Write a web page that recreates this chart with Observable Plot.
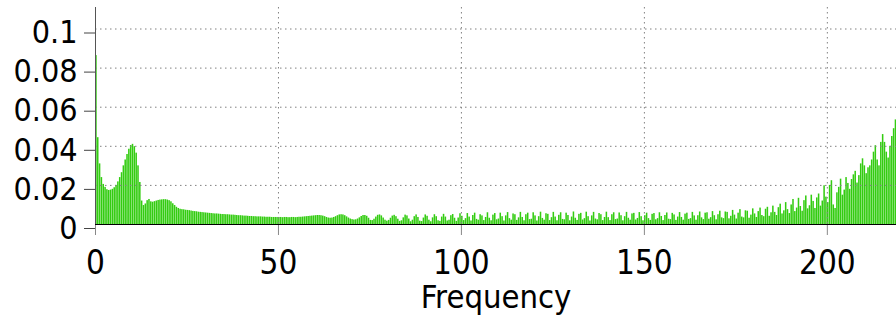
<!DOCTYPE html>
<html><head><meta charset="utf-8">
<script src="https://cdn.jsdelivr.net/npm/d3@7"></script>
<script src="https://cdn.jsdelivr.net/npm/@observablehq/plot@0.6"></script>
<style>
html,body{margin:0;padding:0;background:#fff;}
svg{display:block;}
</style></head><body><div id="chart"></div>
<script>
const binWidth = 0.5;
// 0 – 49.5
const lowBand = [
.0864,.0444,.0310,.0240,.0205,.0190,.0178,.0174,.0176,.0180,
.0188,.0200,.0218,.0240,.0265,.0300,.0330,.0358,.0385,.0404,
.0410,.0398,.0365,.0300,.0215,.0120,.0097,.0105,.0122,.0128,
.0116,.0114,.0117,.0120,.0123,.0125,.0126,.0127,.0127,.0125,
.0122,.0116,.0106,.0097,.0088,.0082,.0078,.0076,.0075,.0073,
.0072,.0071,.0069,.0067,.0066,.0065,.0063,.0062,.0061,.0060,
.0059,.0058,.0057,.0056,.0055,.0054,.0054,.0053,.0052,.0051,
.0051,.0050,.0050,.0049,.0048,.0048,.0047,.0046,.0045,.0045,
.0044,.0043,.0043,.0042,.0041,.0041,.0040,.0040,.0039,.0039,
.0039,.0038,.0038,.0037,.0037,.0037,.0036,.0036,.0036,.0036];
// 50 – 99.5
const midBand = [
.0036,.0036,.0035,.0036,.0036,.0035,.0035,.0036,.0036,.0035,
.0036,.0037,.0037,.0038,.0039,.0040,.0041,.0042,.0043,.0044,
.0045,.0046,.0046,.0045,.0043,.0040,.0036,.0033,.0032,.0033,
.0036,.0040,.0045,.0049,.0050,.0049,.0045,.0039,.0033,.0028,
.0025,.0023,.0024,.0028,.0034,.0041,.0046,.0046,.0042,.0032,
.0021,.0020,.0027,.0038,.0047,.0049,.0044,.0033,.0022,.0017,
.0021,.0032,.0043,.0047,.0040,.0027,.0016,.0019,.0034,.0048,
.0044,.0028,.0014,.0022,.0040,.0049,.0036,.0017,.0015,.0033,
.0049,.0042,.0022,.0014,.0034,.0050,.0040,.0019,.0016,.0038,
.0052,.0038,.0018,.0022,.0045,.0051,.0032,.0016,.0033,.0055];
// 100 – 149.5
const highBand = [
.0042,.0020,.0030,.0056,.0038,.0018,.0046,.0058,.0026,.0022,
.0050,.0044,.0020,.0036,.0060,.0032,.0019,.0048,.0056,.0024,
.0028,.0058,.0040,.0018,.0044,.0061,.0030,.0022,.0054,.0050,
.0021,.0034,.0062,.0036,.0019,.0050,.0058,.0025,.0027,.0060,
.0044,.0018,.0040,.0063,.0031,.0022,.0055,.0052,.0020,.0035,
.0062,.0038,.0019,.0047,.0060,.0026,.0024,.0058,.0046,.0019,
.0038,.0064,.0032,.0021,.0052,.0057,.0023,.0030,.0063,.0040,
.0018,.0044,.0062,.0028,.0024,.0056,.0050,.0020,.0036,.0063,
.0035,.0020,.0050,.0060,.0025,.0028,.0059,.0045,.0019,.0040,
.0062,.0032,.0022,.0054,.0057,.0023,.0031,.0061,.0040,.0019];
// 150 – 218.5
const topBand = [
.0045,.0058,.0030,.0021,.0052,.0056,.0024,.0030,.0060,.0041,
.0020,.0046,.0059,.0027,.0025,.0057,.0049,.0021,.0038,.0061,
.0036,.0022,.0053,.0058,.0026,.0030,.0062,.0044,.0022,.0045,
.0064,.0034,.0025,.0058,.0060,.0027,.0035,.0066,.0045,.0024,
.0050,.0068,.0034,.0030,.0064,.0062,.0029,.0042,.0072,.0048,
.0028,.0058,.0076,.0038,.0034,.0070,.0068,.0032,.0048,.0080,
.0054,.0036,.0066,.0084,.0046,.0040,.0078,.0088,.0042,.0060,
.0094,.0062,.0046,.0086,.0104,.0054,.0070,.0112,.0076,.0056,
.0100,.0128,.0066,.0084,.0134,.0092,.0068,.0122,.0146,.0080,
.0096,.0150,.0118,.0082,.0136,.0156,.0094,.0120,.0198,.0140,
.0112,.0200,.0224,.0100,.0082,.0162,.0190,.0232,.0150,.0176,
.0240,.0210,.0180,.0230,.0254,.0272,.0212,.0250,.0310,.0336,
.0300,.0260,.0290,.0300,.0330,.0370,.0403,.0330,.0300,.0420,
.0460,.0420,.0370,.0340,.0400,.0450,.0490,.0535];

const xTicks = [0, 50, 100, 150, 200];
const yTicks = [0, 0.02, 0.04, 0.06, 0.08, 0.1];
const xLabel = "Frequency";

const values = [...lowBand, ...midBand, ...highBand, ...topBand];
const bins = values.map((v, i) => ({f0: i * binWidth, f1: (i + 1) * binWidth, v}));

const font = '"DejaVu Sans Condensed","DejaVu Sans",sans-serif';
const chart = Plot.plot({
  width: 896, height: 322,
  marginLeft: 95, marginRight: 0, marginTop: 7, marginBottom: 98,
  style: {fontFamily: font, background: "#fff", fontStretch: "condensed"},
  x: {domain: [0, 218.9]},
  y: {domain: [0, 0.111]},
  marks: [
    Plot.rectY(bins, {x1: "f0", x2: "f1", y: "v", fill: "#33cc11", insetLeft: 0.15, insetRight: 0.15}),
    Plot.gridX(xTicks.filter(d => d > 0), {stroke: "#808080", strokeOpacity: 1, strokeDasharray: "1.5,3.5"}),
    Plot.gridY(yTicks.filter(d => d > 0), {stroke: "#808080", strokeOpacity: 1, strokeDasharray: "1.5,3.5"}),
    Plot.ruleX([0], {stroke: "#555"}),
    Plot.axisX(xTicks, {tickSize: 11, tickPadding: 15, fontSize: 33, stroke: "#888", color: "#000", label: null, tickFormat: d => String(d)}),
    Plot.axisY(yTicks, {tickSize: 11, tickPadding: 7, fontSize: 32, stroke: "#444", label: null, dy: 4, tickFormat: d => String(d)}),
    Plot.ruleY([0], {stroke: "#000"}),
    Plot.text([xLabel], {frameAnchor: "bottom", dy: 83, fontSize: 32.5, fill: "#000"})
  ]
});
document.getElementById("chart").appendChild(chart);
</script></body></html>
